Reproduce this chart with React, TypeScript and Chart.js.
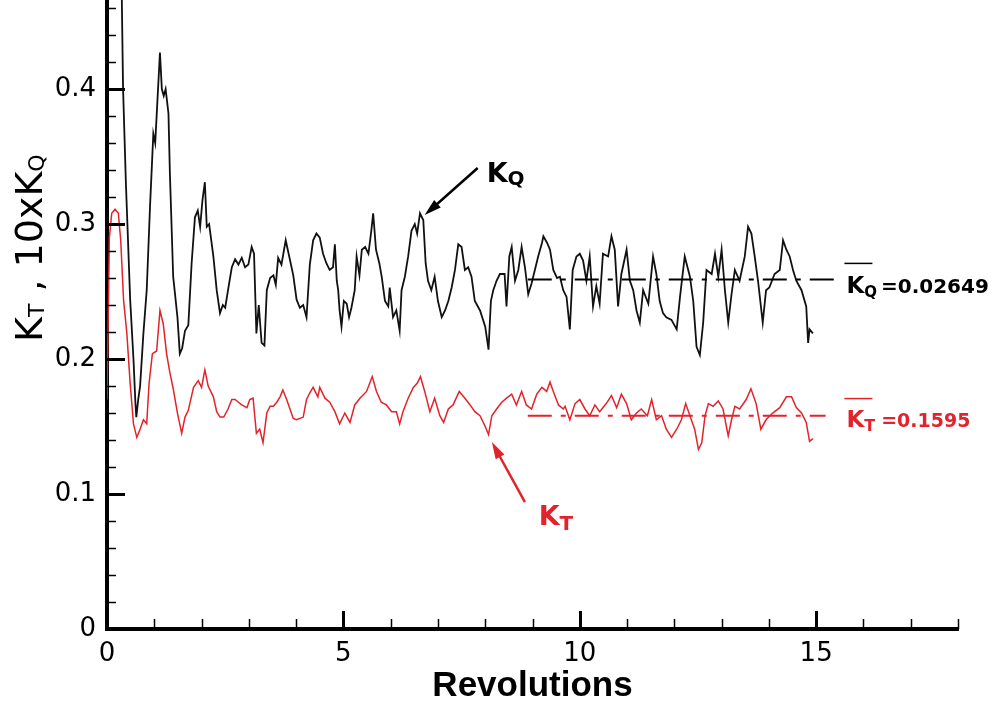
import React, { useEffect, useRef } from 'react';
import { Chart, registerables } from 'chart.js';

Chart.register(...registerables);

// ---------- data ----------
const KQ_REV = [
  0.30, 0.34, 0.40, 0.49, 0.56, 0.60, 0.62, 0.66, 0.70, 0.77, 0.84, 0.91, 0.98, 1.02, 1.06, 1.12, 1.16, 1.20, 1.24, 1.30,
  1.33, 1.40, 1.49, 1.54, 1.59, 1.65, 1.72, 1.79, 1.86, 1.92, 1.97, 2.02, 2.07, 2.11, 2.16, 2.25, 2.32, 2.39, 2.45, 2.50,
  2.56, 2.64, 2.71, 2.78, 2.85, 2.92, 2.99, 3.06, 3.11, 3.16, 3.21, 3.27, 3.33, 3.38, 3.45, 3.52, 3.57, 3.62, 3.69, 3.78,
  3.86, 3.94, 4.01, 4.08, 4.15, 4.22, 4.29, 4.36, 4.43, 4.50, 4.57, 4.64, 4.71, 4.78, 4.82, 4.86, 4.89, 4.92, 4.96, 5.01,
  5.07, 5.12, 5.17, 5.24, 5.28, 5.34, 5.39, 5.46, 5.53, 5.59, 5.63, 5.69, 5.76, 5.81, 5.88, 5.95, 5.98, 6.05, 6.12, 6.19,
  6.23, 6.30, 6.37, 6.44, 6.51, 6.56, 6.62, 6.69, 6.74, 6.79, 6.86, 6.93, 7.00, 7.08, 7.15, 7.22, 7.29, 7.36, 7.43, 7.50,
  7.57, 7.64, 7.71, 7.78, 7.89, 8.00, 8.07, 8.12, 8.17, 8.24, 8.31, 8.41, 8.45, 8.51, 8.56, 8.63, 8.70, 8.77, 8.84, 8.91,
  8.98, 9.12, 9.20, 9.23, 9.31, 9.37, 9.44, 9.52, 9.58, 9.65, 9.72, 9.79, 9.85, 9.93, 10.00, 10.07, 10.14, 10.21, 10.28, 10.35,
  10.42, 10.49, 10.60, 10.67, 10.74, 10.81, 10.88, 10.99, 11.06, 11.13, 11.20, 11.27, 11.34, 11.45, 11.55, 11.62, 11.69, 11.76, 11.83, 11.94,
  12.05, 12.12, 12.22, 12.33, 12.40, 12.47, 12.54, 12.61, 12.68, 12.79, 12.86, 12.93, 13.00, 13.07, 13.14, 13.21, 13.28, 13.38, 13.49, 13.56,
  13.63, 13.70, 13.77, 13.87, 13.94, 14.01, 14.12, 14.23, 14.30, 14.37, 14.44, 14.51, 14.58, 14.69, 14.79, 14.83, 14.86, 14.93,
];
const KQ_VAL = [
  0.500, 0.400, 0.330, 0.244, 0.200, 0.168, 0.157, 0.170, 0.180, 0.219, 0.251, 0.313, 0.367, 0.360, 0.387, 0.427, 0.400, 0.395, 0.400, 0.382,
  0.338, 0.261, 0.231, 0.204, 0.208, 0.221, 0.225, 0.271, 0.305, 0.310, 0.298, 0.318, 0.331, 0.298, 0.300, 0.276, 0.251, 0.234, 0.240, 0.238,
  0.251, 0.268, 0.274, 0.270, 0.275, 0.268, 0.270, 0.283, 0.278, 0.219, 0.240, 0.212, 0.210, 0.251, 0.260, 0.262, 0.255, 0.275, 0.270, 0.288,
  0.275, 0.262, 0.244, 0.238, 0.240, 0.231, 0.270, 0.288, 0.293, 0.290, 0.278, 0.271, 0.266, 0.268, 0.285, 0.258, 0.251, 0.236, 0.224, 0.243,
  0.241, 0.231, 0.238, 0.251, 0.276, 0.262, 0.281, 0.283, 0.278, 0.295, 0.308, 0.281, 0.271, 0.261, 0.243, 0.239, 0.253, 0.231, 0.236, 0.221,
  0.251, 0.261, 0.276, 0.295, 0.300, 0.293, 0.308, 0.303, 0.271, 0.258, 0.251, 0.261, 0.243, 0.231, 0.236, 0.243, 0.253, 0.266, 0.285, 0.283,
  0.266, 0.268, 0.261, 0.243, 0.236, 0.224, 0.207, 0.243, 0.251, 0.258, 0.263, 0.263, 0.239, 0.276, 0.283, 0.258, 0.266, 0.283, 0.268, 0.248,
  0.256, 0.276, 0.286, 0.291, 0.286, 0.281, 0.266, 0.260, 0.261, 0.251, 0.246, 0.222, 0.266, 0.276, 0.278, 0.273, 0.258, 0.276, 0.239, 0.254,
  0.241, 0.278, 0.276, 0.291, 0.281, 0.239, 0.263, 0.281, 0.258, 0.251, 0.236, 0.227, 0.251, 0.241, 0.276, 0.263, 0.243, 0.234, 0.231, 0.229,
  0.222, 0.246, 0.276, 0.261, 0.243, 0.209, 0.203, 0.227, 0.266, 0.263, 0.278, 0.261, 0.281, 0.251, 0.227, 0.248, 0.266, 0.258, 0.276, 0.298,
  0.293, 0.276, 0.258, 0.227, 0.251, 0.253, 0.263, 0.266, 0.288, 0.281, 0.276, 0.266, 0.258, 0.251, 0.239, 0.212, 0.222, 0.219,
];

const KT_REV = [
  0.00, 0.05, 0.10, 0.17, 0.24, 0.29, 0.35, 0.42, 0.49, 0.56, 0.63, 0.70, 0.77, 0.84, 0.89, 0.96, 1.05, 1.12, 1.19, 1.26,
  1.33, 1.40, 1.49, 1.58, 1.65, 1.72, 1.83, 1.93, 2.00, 2.07, 2.14, 2.25, 2.32, 2.39, 2.47, 2.56, 2.64, 2.71, 2.78, 2.85,
  2.96, 3.02, 3.09, 3.16, 3.23, 3.30, 3.38, 3.45, 3.52, 3.59, 3.66, 3.72, 3.80, 3.87, 3.94, 4.01, 4.15, 4.22, 4.29, 4.36,
  4.46, 4.50, 4.61, 4.71, 4.82, 4.92, 5.03, 5.14, 5.24, 5.35, 5.49, 5.61, 5.70, 5.80, 5.91, 6.02, 6.12, 6.19, 6.26, 6.37,
  6.48, 6.56, 6.63, 6.72, 6.83, 6.93, 7.04, 7.12, 7.22, 7.32, 7.45, 7.57, 7.68, 7.78, 7.89, 8.00, 8.07, 8.14, 8.24, 8.35,
  8.45, 8.56, 8.66, 8.77, 8.87, 8.98, 9.09, 9.20, 9.30, 9.37, 9.44, 9.55, 9.65, 9.69, 9.79, 9.90, 10.00, 10.11, 10.21, 10.32,
  10.42, 10.56, 10.67, 10.78, 10.88, 10.99, 11.09, 11.20, 11.30, 11.43, 11.52, 11.62, 11.73, 11.83, 11.94, 12.05, 12.15, 12.24, 12.33, 12.43,
  12.51, 12.58, 12.65, 12.72, 12.82, 12.93, 13.03, 13.14, 13.21, 13.28, 13.38, 13.52, 13.62, 13.73, 13.83, 13.94, 14.08, 14.23, 14.37, 14.48,
  14.58, 14.69, 14.79, 14.86, 14.93,
];
const KT_VAL = [
  0.170, 0.290, 0.308, 0.311, 0.308, 0.288, 0.244, 0.219, 0.182, 0.152, 0.142, 0.148, 0.155, 0.152, 0.182, 0.204, 0.206, 0.236, 0.226, 0.204,
  0.190, 0.178, 0.160, 0.145, 0.157, 0.162, 0.179, 0.184, 0.179, 0.192, 0.180, 0.172, 0.161, 0.157, 0.157, 0.163, 0.170, 0.170, 0.168, 0.166,
  0.164, 0.170, 0.171, 0.145, 0.148, 0.138, 0.160, 0.165, 0.165, 0.168, 0.172, 0.177, 0.170, 0.163, 0.156, 0.155, 0.157, 0.170, 0.175, 0.179,
  0.172, 0.179, 0.171, 0.168, 0.161, 0.152, 0.160, 0.153, 0.166, 0.171, 0.176, 0.187, 0.176, 0.168, 0.166, 0.161, 0.161, 0.152, 0.161, 0.171,
  0.179, 0.182, 0.187, 0.176, 0.161, 0.171, 0.158, 0.153, 0.163, 0.166, 0.176, 0.171, 0.166, 0.161, 0.158, 0.150, 0.144, 0.158, 0.163, 0.168,
  0.171, 0.174, 0.166, 0.176, 0.166, 0.163, 0.174, 0.179, 0.176, 0.183, 0.176, 0.166, 0.163, 0.165, 0.155, 0.167, 0.170, 0.163, 0.158, 0.166,
  0.161, 0.167, 0.173, 0.164, 0.174, 0.167, 0.155, 0.160, 0.163, 0.158, 0.170, 0.155, 0.158, 0.148, 0.142, 0.148, 0.155, 0.167, 0.158, 0.148,
  0.133, 0.138, 0.158, 0.167, 0.165, 0.169, 0.163, 0.143, 0.155, 0.165, 0.163, 0.170, 0.178, 0.167, 0.148, 0.155, 0.160, 0.164, 0.172, 0.172,
  0.164, 0.160, 0.153, 0.139, 0.141,
];

const KQ_MEAN_REV = [8.9, 15.45];
const KT_MEAN_REV = [8.9, 15.2];
const KQ_MEAN_LINE = 0.259;
const KT_MEAN_LINE = 0.158;
const KQ_MEAN_TEXT = '=0.02649';
const KT_MEAN_TEXT = '=0.1595';

const X_TICKS = [0, 5, 10, 15];
const Y_TICKS = [0, 0.1, 0.2, 0.3, 0.4];
const X_TITLE = 'Revolutions';

const RED = '#e3232b';
const BLACK = '#111111';
const FONT = '"DejaVu Sans"';

function txt(ctx: CanvasRenderingContext2D, s: string, x: number, y: number, font: string) {
  ctx.font = font;
  ctx.fillText(s, x, y);
  return x + ctx.measureText(s).width;
}

function arrow(ctx: CanvasRenderingContext2D, x1: number, y1: number, x2: number, y2: number, color: string) {
  const ang = Math.atan2(y2 - y1, x2 - x1);
  const len = 17;
  const hw = 5;
  ctx.strokeStyle = color;
  ctx.fillStyle = color;
  ctx.lineWidth = 2.5;
  ctx.beginPath();
  ctx.moveTo(x1, y1);
  ctx.lineTo(x2 - Math.cos(ang) * len * 0.6, y2 - Math.sin(ang) * len * 0.6);
  ctx.stroke();
  ctx.beginPath();
  ctx.moveTo(x2, y2);
  ctx.lineTo(x2 - Math.cos(ang) * len - Math.sin(ang) * hw, y2 - Math.sin(ang) * len + Math.cos(ang) * hw);
  ctx.lineTo(x2 - Math.cos(ang) * len + Math.sin(ang) * hw, y2 - Math.sin(ang) * len - Math.cos(ang) * hw);
  ctx.closePath();
  ctx.fill();
}

const decorPlugin = {
  id: 'decor',
  afterDraw(chart: any) {
    const { ctx, chartArea, scales } = chart;
    const xs = scales.x;
    const ys = scales.y;
    const px = (v: number) => xs.getPixelForValue(v);
    const py = (v: number) => ys.getPixelForValue(v);
    ctx.save();
    // inward tick marks
    ctx.strokeStyle = '#000';
    for (let i = 0; i <= 23; i++) {
      const major = i % 5 === 0;
      const yy = Math.round(py(i * 0.02)) + 0.5;
      ctx.lineWidth = major ? 3 : 1.5;
      ctx.beginPath();
      ctx.moveTo(chartArea.left, yy);
      ctx.lineTo(chartArea.left + (major ? 18 : 9), yy);
      ctx.stroke();
    }
    for (let i = 0; i <= 18; i++) {
      const major = i % 5 === 0;
      const xx = Math.round(px(i)) + 0.5;
      ctx.lineWidth = major ? 3 : 1.5;
      ctx.beginPath();
      ctx.moveTo(xx, chartArea.bottom);
      ctx.lineTo(xx, chartArea.bottom - (major ? 18 : 10));
      ctx.stroke();
    }

    ctx.textBaseline = 'alphabetic';
    ctx.textAlign = 'left';

    // y-axis title  K_T , 10xK_Q
    ctx.save();
    ctx.translate(42, 342);
    ctx.rotate(-Math.PI / 2);
    ctx.fillStyle = '#000';
    let cx = 0;
    cx = txt(ctx, 'K', cx, 0, `38px ${FONT}`);
    cx = txt(ctx, 'T', cx, 2, `22px ${FONT}`);
    cx = txt(ctx, ' , 10x', cx, 0, `38px ${FONT}`);
    cx = txt(ctx, 'K', cx, 0, `38px ${FONT}`);
    txt(ctx, 'Q', cx, 2, `22px ${FONT}`);
    ctx.restore();

    // K_Q annotation
    arrow(ctx, px(7.84), py(0.3415), px(6.72), py(0.3067), '#000');
    ctx.fillStyle = '#000';
    cx = txt(ctx, 'K', px(8.03), py(0.331), `bold 27px ${FONT}`);
    txt(ctx, 'Q', cx, py(0.331) + 3, `bold 20px ${FONT}`);

    // K_T annotation
    arrow(ctx, px(8.84), py(0.094), px(8.14), py(0.1385), RED);
    ctx.fillStyle = RED;
    cx = txt(ctx, 'K', px(9.13), py(0.077), `bold 27px ${FONT}`);
    txt(ctx, 'T', cx, py(0.077) + 5, `bold 20px ${FONT}`);

    // mean labels
    const lx = px(15.64);
    const by = py(0.249);
    ctx.fillStyle = '#000';
    ctx.strokeStyle = '#000';
    cx = txt(ctx, 'K', lx, by, `bold 23px ${FONT}`);
    cx = txt(ctx, 'Q', cx, by + 4, `bold 15px ${FONT}`);
    ctx.lineWidth = 1.5;
    ctx.beginPath();
    ctx.moveTo(lx - 2, by - 29.5);
    ctx.lineTo(lx + 26, by - 29.5);
    ctx.stroke();
    txt(ctx, KQ_MEAN_TEXT, cx + 4, by, `bold 20px ${FONT}`);

    const ry = py(0.1496);
    ctx.fillStyle = RED;
    ctx.strokeStyle = RED;
    cx = txt(ctx, 'K', lx, ry, `bold 23px ${FONT}`);
    cx = txt(ctx, 'T', cx, ry + 4, `bold 16px ${FONT}`);
    ctx.beginPath();
    ctx.moveTo(lx - 2, ry - 28.5);
    ctx.lineTo(lx + 26, ry - 28.5);
    ctx.stroke();
    txt(ctx, KT_MEAN_TEXT, cx + 6, ry, `bold 19px ${FONT}`);

    ctx.restore();
  },
};

export default function App() {
  const ref = useRef<HTMLCanvasElement | null>(null);

  useEffect(() => {
    if (!ref.current) return;
    const chart = new Chart(ref.current, {
      type: 'line',
      data: {
        datasets: [
          {
            label: 'KQ mean',
            data: KQ_MEAN_REV.map((r) => ({ x: r, y: KQ_MEAN_LINE })),
            borderColor: '#000',
            borderWidth: 2,
            borderDash: [24, 9, 5, 9],
            pointRadius: 0,
          },
          {
            label: 'KT mean',
            data: KT_MEAN_REV.map((r) => ({ x: r, y: KT_MEAN_LINE })),
            borderColor: RED,
            borderWidth: 2,
            borderDash: [24, 9, 5, 9],
            pointRadius: 0,
          },
          {
            label: 'KQ',
            data: KQ_REV.map((r, i) => ({ x: r, y: KQ_VAL[i] })),
            borderColor: BLACK,
            borderWidth: 1.8,
            pointRadius: 0,
            tension: 0,
          },
          {
            label: 'KT',
            data: KT_REV.map((r, i) => ({ x: r, y: KT_VAL[i] })),
            borderColor: RED,
            borderWidth: 1.5,
            pointRadius: 0,
            tension: 0,
          },
        ],
      },
      options: {
        animation: false,
        responsive: false,
        maintainAspectRatio: false,
        layout: { padding: { left: 0, right: 38, top: 0, bottom: 0 } },
        plugins: { legend: { display: false }, tooltip: { enabled: false } },
        scales: {
          x: {
            type: 'linear',
            min: 0,
            max: 18,
            grid: { display: false, drawTicks: false },
            border: { display: true, color: '#000', width: 4 },
            afterBuildTicks: (s: any) => {
              s.ticks = X_TICKS.map((v) => ({ value: v }));
            },
            afterFit: (s: any) => {
              s.height = 75;
              s.paddingLeft = 0;
              s.paddingRight = 0;
              s.paddingTop = 0;
              s.paddingBottom = 0;
            },
            ticks: {
              color: '#000',
              font: { family: 'DejaVu Sans', size: 26 },
              padding: 10,
              maxRotation: 0,
              autoSkip: false,
              callback: (v: any) => String(v),
            },
            title: {
              display: true,
              text: X_TITLE,
              color: '#000',
              font: { family: '"Liberation Sans", Arial, sans-serif', size: 35, weight: 'bold' },
              padding: { top: 0, bottom: -3 },
            },
          },
          y: {
            type: 'linear',
            min: 0,
            max: 0.466,
            grid: { display: false, drawTicks: false },
            border: { display: true, color: '#000', width: 4 },
            afterBuildTicks: (s: any) => {
              s.ticks = Y_TICKS.map((v) => ({ value: v }));
            },
            afterFit: (s: any) => {
              s.width = 107;
              s.paddingLeft = 0;
              s.paddingRight = 0;
              s.paddingTop = 0;
              s.paddingBottom = 0;
            },
            ticks: {
              color: '#000',
              font: { family: 'DejaVu Sans', size: 26 },
              padding: 11,
              autoSkip: false,
              callback: (v: any) => String(v),
            },
          },
        },
      },
      plugins: [decorPlugin],
    } as any);
    return () => chart.destroy();
  }, []);

  return (
    <div style={{ position: 'absolute', left: 0, top: 0, width: 996, height: 704, background: '#fff' }}>
      <canvas ref={ref} width={996} height={704} style={{ display: 'block', width: 996, height: 704 }} />
    </div>
  );
}
